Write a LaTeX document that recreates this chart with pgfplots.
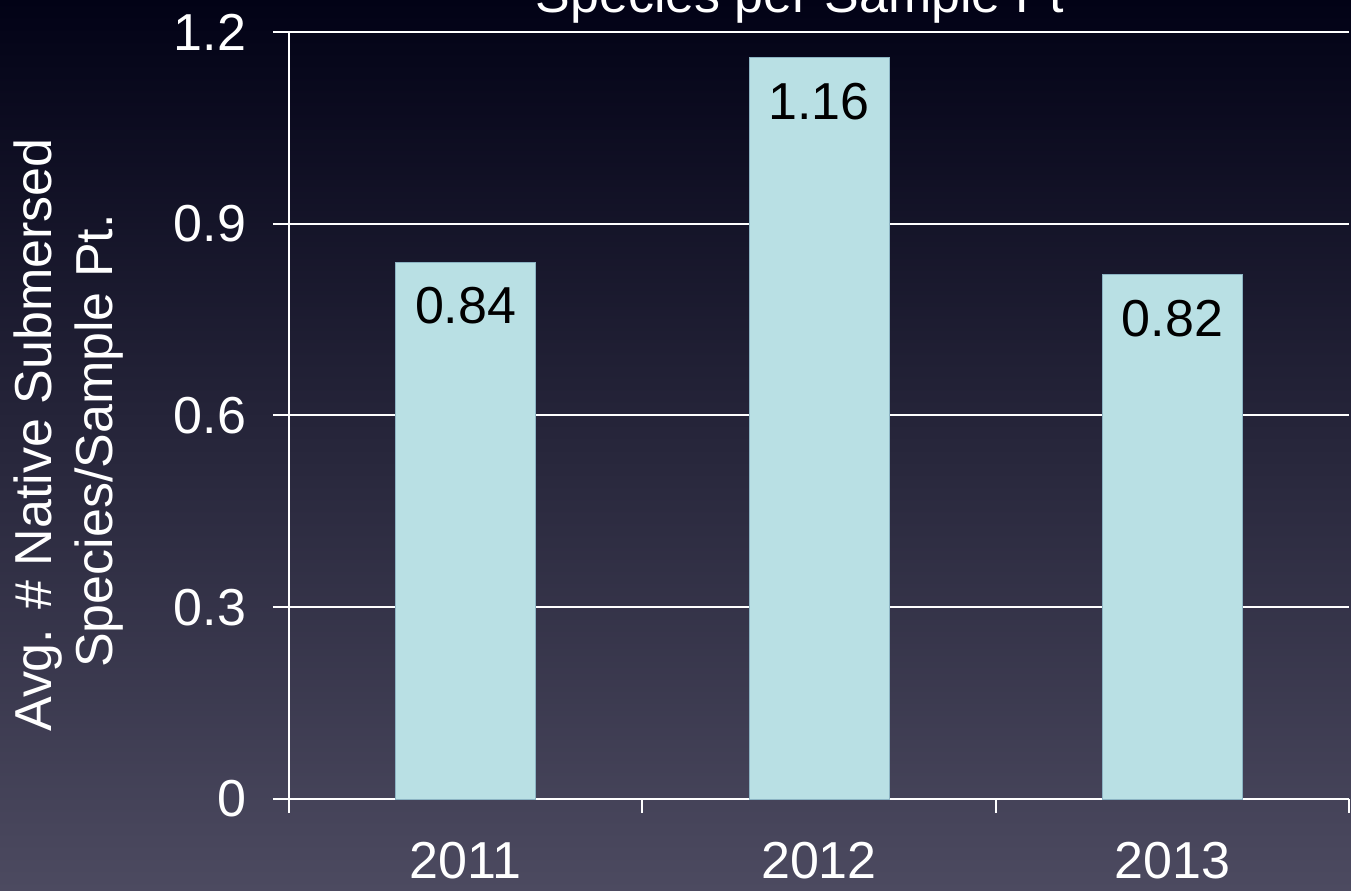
\documentclass[border=0pt]{standalone}
\usepackage{pgfplots}
\pgfplotsset{compat=1.18}
\usepackage{fontspec}
\setmainfont{Liberation Sans}
\definecolor{bgtop}{RGB}{2,2,22}
\definecolor{bgmid}{RGB}{33,33,60}
\definecolor{bgbot}{RGB}{76,74,96}
\definecolor{barfill}{RGB}{185,224,228}
\definecolor{baredge}{RGB}{140,180,195}
\newcommand{\bigfont}{\fontsize{26}{31}\selectfont}
\begin{document}
\begin{tikzpicture}[x=1pt,y=1pt]
\useasboundingbox (0,0) rectangle (675.5,445);
\clip (0,0) rectangle (675.5,445);
\shade[top color=bgtop, middle color=bgmid, bottom color=bgbot] (0,0) rectangle (675.5,445);
\begin{axis}[
  at={(144.5pt,45.5pt)}, anchor=south west,
  scale only axis, width=530pt, height=383.5pt,
  xmin=-0.5, xmax=2.5, ymin=0, ymax=1.2,
  axis x line=bottom, axis y line=left,
  axis line style={white, line width=1pt, -},
  xtick={0,1,2}, xticklabels={2011,2012,2013},
  minor xtick={-0.5,0.5,1.5,2.5},
  ytick={0,0.3,0.6,0.9,1.2},
  yticklabels={0,0.3,0.6,0.9,1.2},
  tick align=outside,
  major tick length=8pt, minor tick length=7pt,
  major x tick style={draw=none},
  tick style={white, line width=1pt},
  ymajorgrids, grid style={white, line width=1pt},
  xticklabel style={font=\bigfont, text=white, yshift=-10pt},
  yticklabel style={font=\bigfont, text=white, xshift=-10pt},
]
\addplot[ybar, bar width=70pt, fill=barfill, draw=baredge, line width=0.5pt,
  nodes near coords, point meta=explicit symbolic,
  nodes near coords style={font=\bigfont, text=black, anchor=center, yshift=-22pt}]
  coordinates {(0,0.84) [0.84] (1,1.16) [1.16] (2,0.82) [0.82]};
\end{axis}
\node[rotate=90, anchor=base, text=white, font=\bigfont] at (26,227.5) {Avg. \# Native Submersed};
\node[rotate=90, anchor=base, text=white, font=\bigfont] at (56.5,224.5) {Species/Sample Pt.};
\node[anchor=base, text=white, font=\bigfont] at (400,438.5) {Species per Sample Pt};
\end{tikzpicture}
\end{document}
